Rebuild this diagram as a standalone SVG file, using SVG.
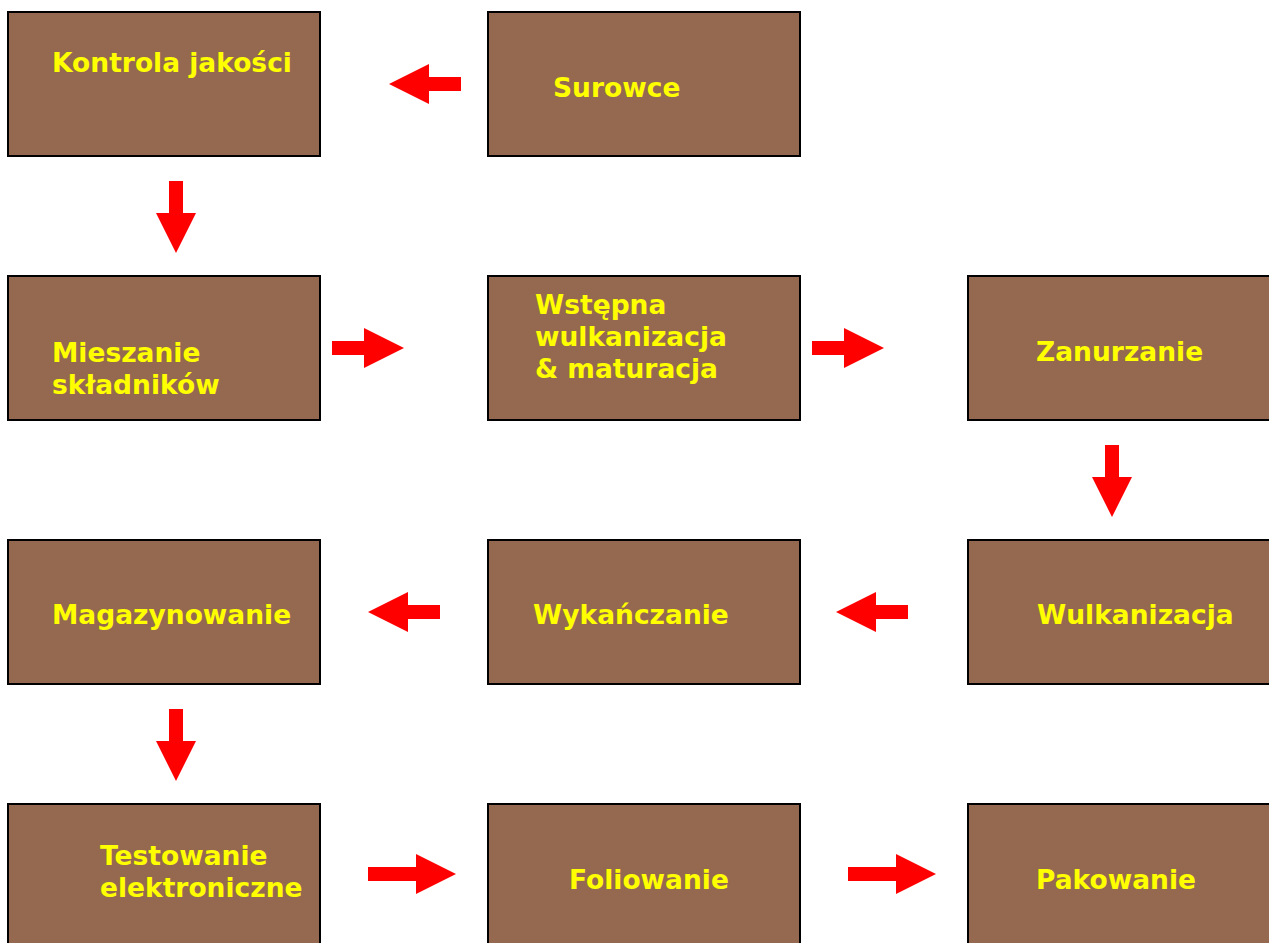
<svg xmlns="http://www.w3.org/2000/svg" width="1269" height="943" viewBox="0 0 1269 943">
<style>
.box{fill:#956850;stroke:#000;stroke-width:2}
.t{font-family:"DejaVu Sans",Verdana,sans-serif;font-weight:bold;font-size:26.5px;fill:#FFFF00}
.arr{fill:#FF0000}
</style>
<defs>
<polygon id="ar" points="0,-7 32,-7 32,-20 72,0 32,20 32,7 0,7"/>
<polygon id="arL" points="0,-7 48,-7 48,-20 88,0 48,20 48,7 0,7"/>
</defs>
<rect width="1269" height="943" fill="#fff"/>
<g id="n1"><rect class="box" x="8" y="12" width="312" height="144"/><text class="t" x="52" y="72">Kontrola jakości</text></g>
<g id="n2"><rect class="box" x="488" y="12" width="312" height="144"/><text class="t" x="553" y="97">Surowce</text></g>
<g id="n3"><rect class="box" x="8" y="276" width="312" height="144"/><text class="t" x="52" y="362">Mieszanie</text><text class="t" x="52" y="394">składników</text></g>
<g id="n4"><rect class="box" x="488" y="276" width="312" height="144"/><text class="t" x="535" y="314">Wstępna</text><text class="t" x="535" y="346">wulkanizacja</text><text class="t" x="535" y="378">&amp; maturacja</text></g>
<g id="n5"><rect class="box" x="968" y="276" width="312" height="144"/><text class="t" x="1036" y="361">Zanurzanie</text></g>
<g id="n6"><rect class="box" x="8" y="540" width="312" height="144"/><text class="t" x="52" y="624">Magazynowanie</text></g>
<g id="n7"><rect class="box" x="488" y="540" width="312" height="144"/><text class="t" x="533" y="624">Wykańczanie</text></g>
<g id="n8"><rect class="box" x="968" y="540" width="312" height="144"/><text class="t" x="1037" y="624">Wulkanizacja</text></g>
<g id="n9"><rect class="box" x="8" y="804" width="312" height="150"/><text class="t" x="100" y="865">Testowanie</text><text class="t" x="100" y="897">elektroniczne</text></g>
<g id="n10"><rect class="box" x="488" y="804" width="312" height="150"/><text class="t" x="569" y="889">Foliowanie</text></g>
<g id="n11"><rect class="box" x="968" y="804" width="312" height="150"/><text class="t" x="1036" y="889">Pakowanie</text></g>
<g id="connectors" class="arr">
<use href="#ar" transform="translate(461,84) rotate(180)"/>
<use href="#ar" transform="translate(176,181) rotate(90)"/>
<use href="#ar" transform="translate(332,348)"/>
<use href="#ar" transform="translate(812,348)"/>
<use href="#ar" transform="translate(1112,445) rotate(90)"/>
<use href="#ar" transform="translate(908,612) rotate(180)"/>
<use href="#ar" transform="translate(440,612) rotate(180)"/>
<use href="#ar" transform="translate(176,709) rotate(90)"/>
<use href="#arL" transform="translate(368,874)"/>
<use href="#arL" transform="translate(848,874)"/>
</g>
</svg>
